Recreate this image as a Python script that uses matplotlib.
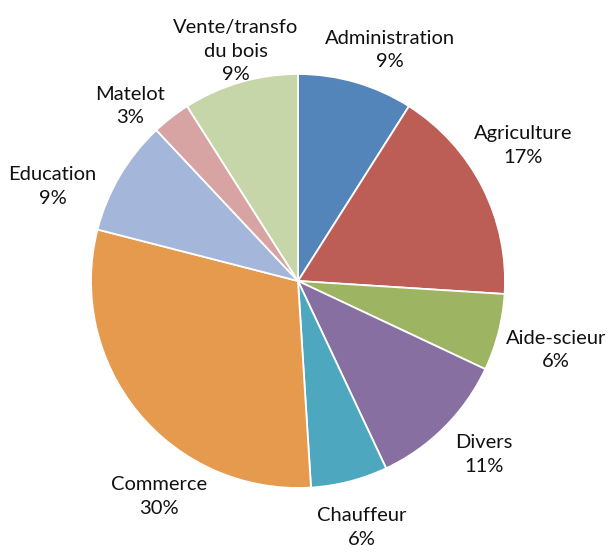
import numpy as np
import matplotlib
matplotlib.use("Agg")
import matplotlib.pyplot as plt

categories = ["Administration", "Agriculture", "Aide-scieur", "Divers", "Chauffeur",
              "Commerce", "Education", "Matelot", "Vente/transfo\ndu bois"]
values = [9, 17, 6, 11, 6, 30, 9, 3, 9]
pct_labels = ["9%", "17%", "6%", "11%", "6%", "30%", "9%", "3%", "9%"]
colors = ["#5485BA", "#BD5E56", "#9DB562", "#876FA2", "#4DA8BF",
          "#E69A4E", "#A4B7DB", "#D8A4A3", "#C6D6A9"]

# label layout: angular shift (deg, clockwise) and radial distance
label_shift = [5.5, -4, 0.5, -2, 0, -17.5, -9.5, -6, 1]
label_dist = [1.20, 1.27, 1.29, 1.23, 1.23, 1.24, 1.27, 1.17, 1.15]

plt.rcParams['font.family'] = ['Lato', 'DejaVu Sans']
fig = plt.figure(figsize=(6.09, 5.52), dpi=100)
ax = fig.add_axes([0, 0, 1, 1])
wedges, _ = ax.pie(values, colors=colors, startangle=90, counterclock=False,
                   wedgeprops=dict(edgecolor="white", linewidth=1.3))
total = sum(values)
cum = 0
for i, (cat, v, p) in enumerate(zip(categories, values, pct_labels)):
    mid = (cum + v / 2) / total * 360 + label_shift[i]
    cum += v
    th = np.deg2rad(90 - mid)
    r = label_dist[i]
    ax.text(r * np.cos(th), r * np.sin(th), f"{cat}\n{p}", ha="center", va="center",
            fontsize=14.5, color="#111111", linespacing=1.45)
ax.set_xlim(-1.4396, 1.5024)
ax.set_ylim(-1.3092, 1.3575)
ax.set_aspect("auto")
ax.axis("off")
fig.savefig("out.png", dpi=100)
